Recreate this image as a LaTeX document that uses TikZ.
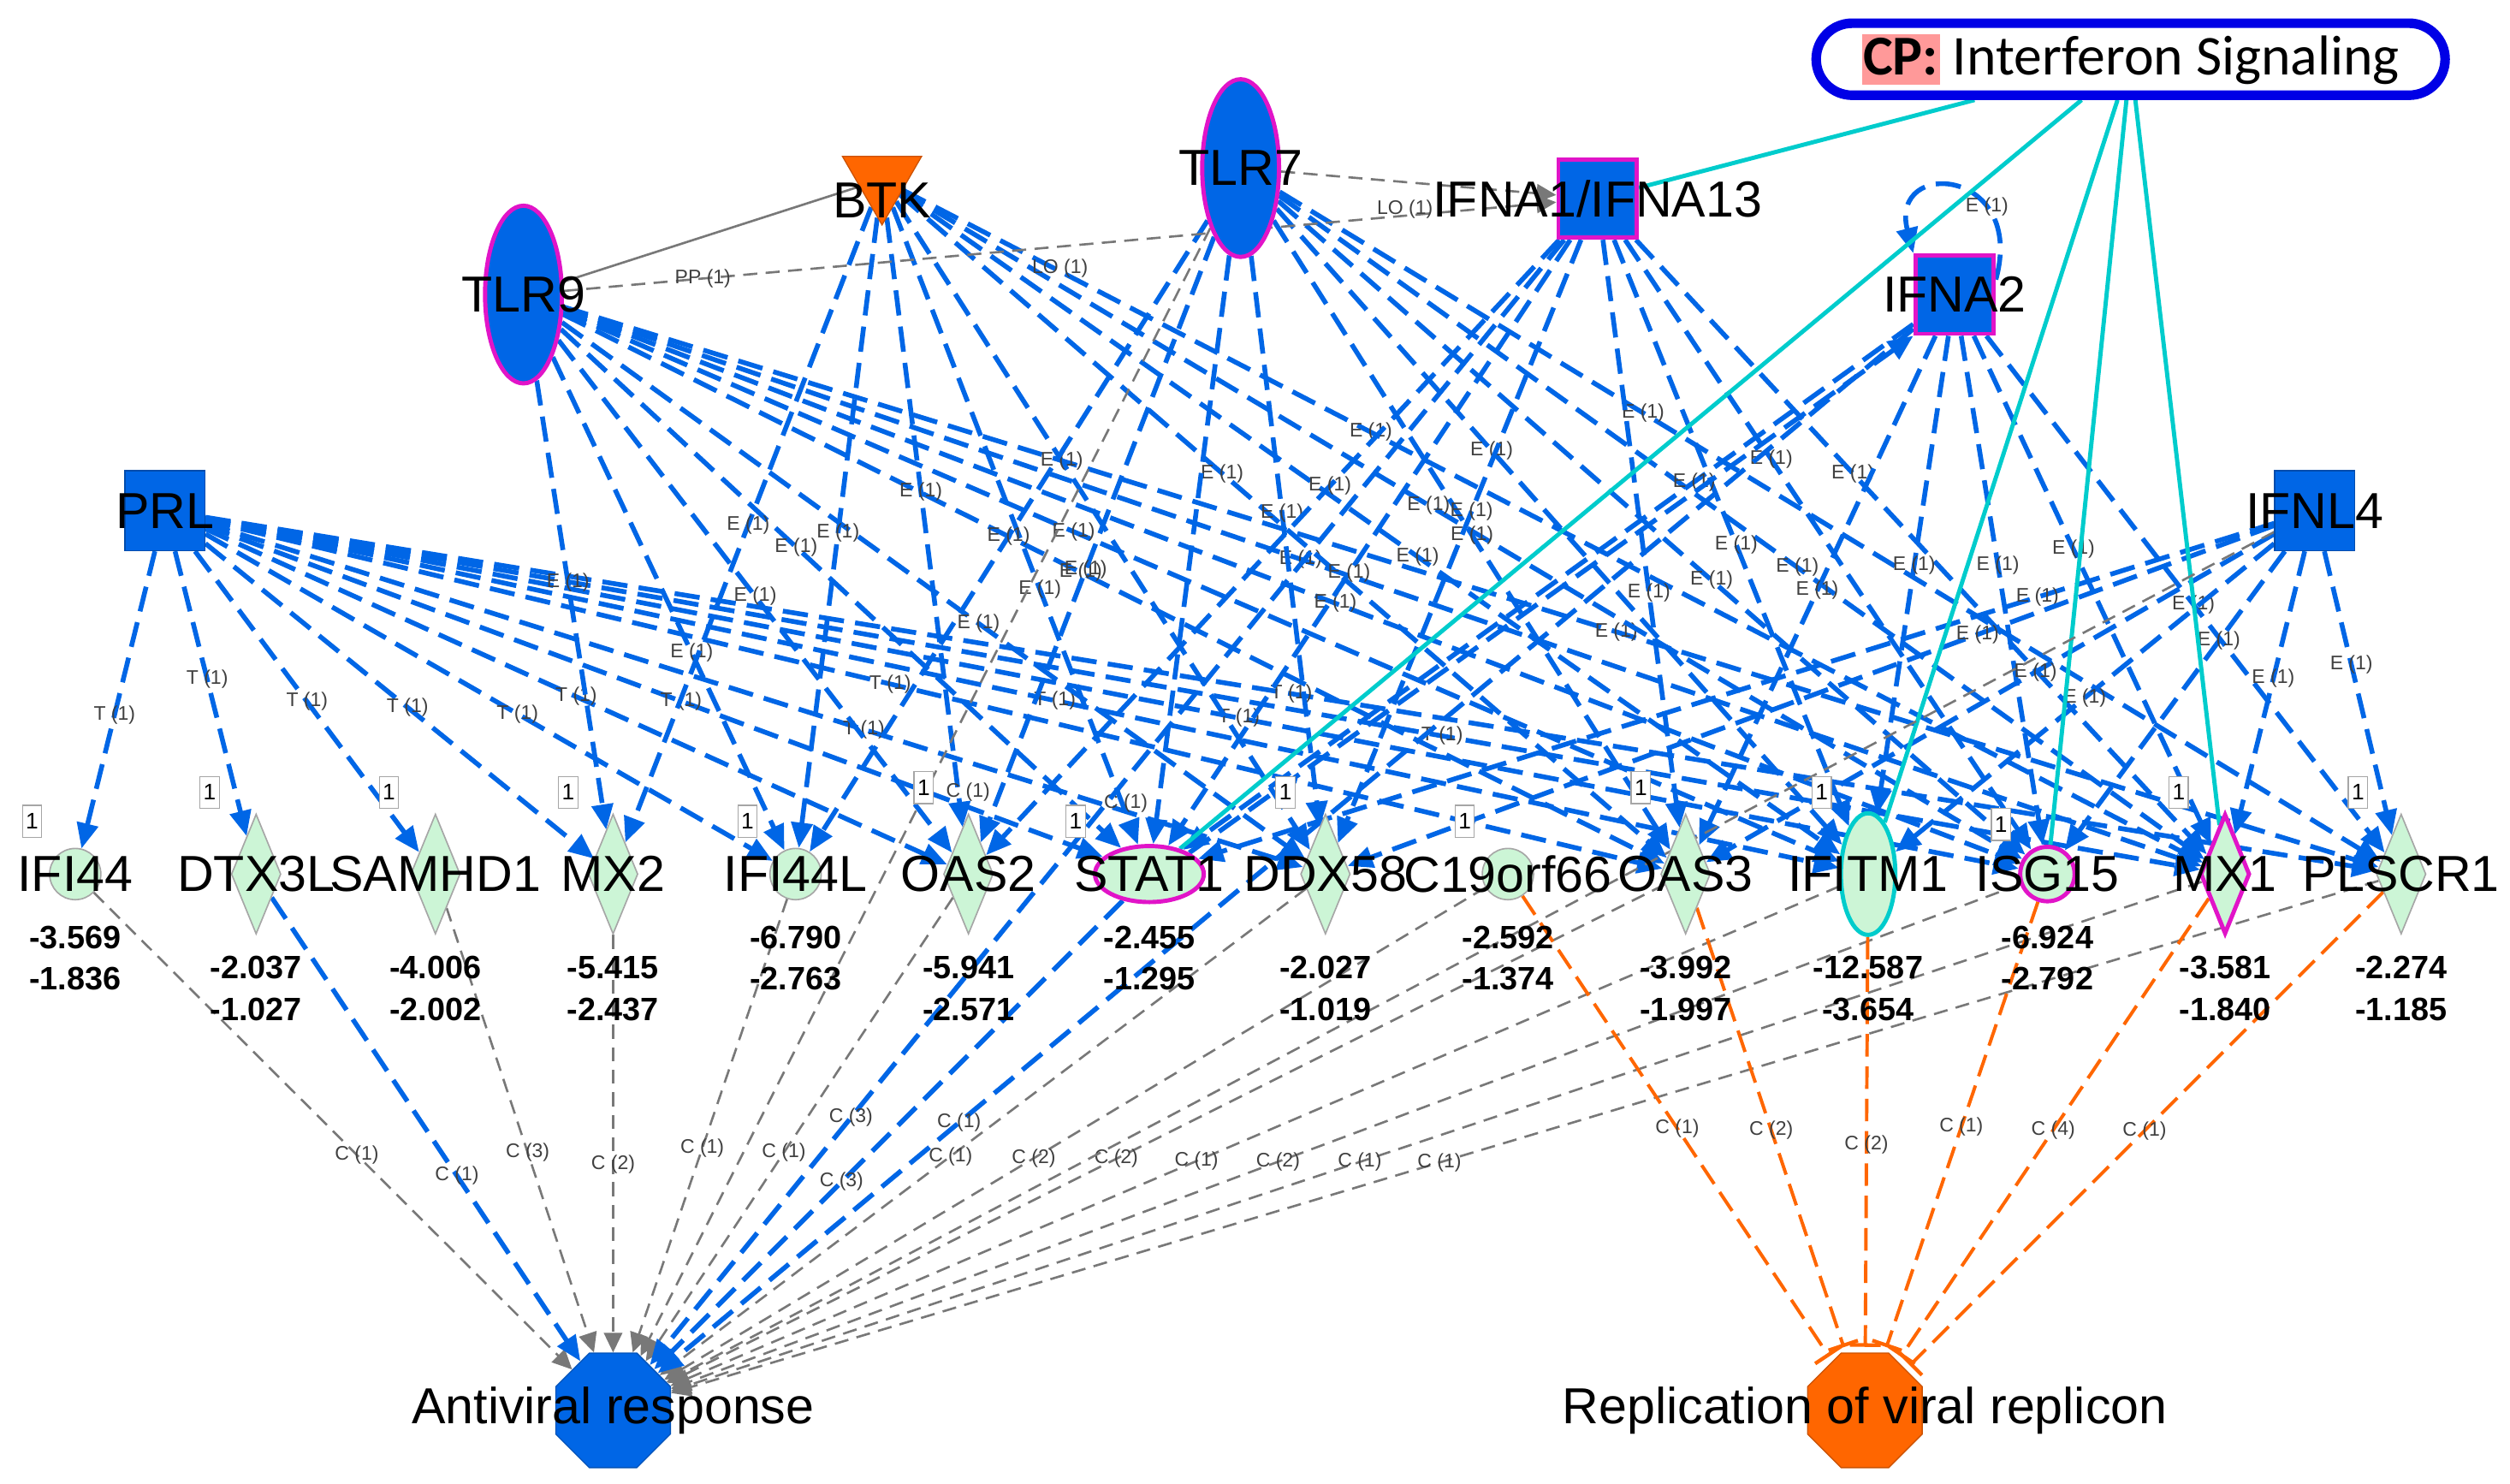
\documentclass[tikz,border=0pt]{standalone}
\usepackage{fontspec}
\setmainfont{Liberation Sans}
\newfontfamily\cpfont{Carlito}
\usetikzlibrary{positioning,calc,arrows.meta,shapes.geometric,shapes.misc}
\definecolor{ipablue}{RGB}{0,102,230}
\definecolor{ipaorange}{RGB}{255,102,0}
\definecolor{ipamag}{RGB}{225,20,200}
\definecolor{ipagreen}{RGB}{204,245,214}
\definecolor{ipacyan}{RGB}{0,204,204}
\definecolor{ipagrey}{RGB}{120,120,120}
\definecolor{cpblue}{RGB}{0,0,230}
\definecolor{cppink}{RGB}{255,153,153}
\pgfdeclarelayer{links}
\pgfsetlayers{links,main}
\begin{document}
\begin{tikzpicture}[x=0.02cm, y=-0.02cm, >={Triangle[length=9pt,width=7.5pt]},
  upoval/.style={ellipse, fill=ipablue, draw=ipamag, line width=1.5pt, minimum width=0.96cm, minimum height=2.22cm, inner sep=0pt},
  upsq/.style={rectangle, fill=ipablue, draw=ipablue!75!black, line width=0.4pt, minimum size=1cm, inner sep=0pt},
  upsqmag/.style={upsq, draw=ipamag, line width=1.5pt, minimum size=0.98cm},
  btktri/.style={regular polygon, regular polygon sides=3, shape border rotate=180, fill=ipaorange, draw=ipaorange!80!black, line width=0.4pt, minimum size=1.14cm, inner sep=0pt},
  funcblue/.style={regular polygon, regular polygon sides=8, fill=ipablue, draw=ipablue!80!black, line width=0.4pt, minimum size=1.55cm, inner sep=0pt},
  funcorange/.style={funcblue, fill=ipaorange, draw=ipaorange!80!black},
  cpbox/.style={rounded rectangle, draw=cpblue, line width=3.4pt, fill=white, minimum width=8.0cm, minimum height=0.9cm, inner sep=2pt, font=\cpfont\fontsize{20}{24}\selectfont},
  toplab/.style={font=\fontsize{18}{20}\selectfont, inner sep=0pt},
  genecirc/.style={circle, fill=ipagreen, draw=gray!70, line width=0.5pt, minimum size=0.64cm, inner sep=0pt},
  genedia/.style={diamond, fill=ipagreen, draw=gray!70, line width=0.5pt, minimum width=0.62cm, minimum height=1.5cm, inner sep=0pt},
  genestat/.style={ellipse, fill=ipagreen, draw=ipamag, line width=1.5pt, minimum width=1.36cm, minimum height=0.7cm, inner sep=0pt},
  geneitm/.style={ellipse, fill=ipagreen, draw=ipacyan, line width=1.5pt, minimum width=0.68cm, minimum height=1.52cm, inner sep=0pt},
  geneisg/.style={genecirc, draw=ipamag, line width=1.5pt, minimum size=0.68cm},
  genemx/.style={genedia, draw=ipamag, line width=1.5pt},
  tagbox/.style={draw=gray!70, line width=0.4pt, fill=white, minimum width=0.24cm, minimum height=0.4cm, inner sep=0pt, font=\fontsize{8}{9}\selectfont},
  vals/.style={font=\bfseries\fontsize{11.5}{14.8}\selectfont, align=center, inner sep=0pt},
  act/.style={->, draw=ipablue, line width=1.7pt, dash pattern=on 9pt off 4pt},
  cgrey/.style={-{Triangle[length=7pt,width=6.5pt]}, draw=ipagrey, line width=0.8pt, dash pattern=on 5pt off 3pt},
  inhib/.style={-{Bar[width=11pt,line width=1.3pt]}, draw=ipaorange, line width=1.2pt, dash pattern=on 8pt off 3.5pt, shorten >=2pt},
  cplink/.style={draw=ipacyan, line width=1.5pt},
  elab/.style={font=\fontsize{7}{8}\selectfont, text=black!75, inner sep=1pt}]
\useasboundingbox (0,0) rectangle (1568,926.5);

\node[cpbox] (CP) at (1331,37) {{\setlength\fboxsep{0.5pt}\colorbox{cppink}{\rule[-3pt]{0pt}{17pt}\bfseries CP:}} Interferon Signaling};
\node[upoval, label={[toplab]center:TLR7}] (TLR7) at (775,105) {};
\node[btktri, label={[toplab,yshift=-0.26cm]center:BTK}] (BTK) at (551,112) {};
\node[upsqmag, label={[toplab]center:IFNA1/IFNA13}] (IFNA1) at (998,124) {};
\node[upoval, label={[toplab]center:TLR9}] (TLR9) at (327,184) {};
\node[upsqmag, label={[toplab]center:IFNA2}] (IFNA2) at (1221,184) {};
\node[upsq, label={[toplab]center:PRL}] (PRL) at (103,319) {};
\node[upsq, label={[toplab]center:IFNL4}] (IFNL4) at (1446,319) {};

\foreach \n/\x/\s/\vy/\tx/\ty/\va/\vb in {
  IFI44/47/genecirc/578/20/513/-3.569/-1.836,
  DTX3L/160/genedia/597/131/495/-2.037/-1.027,
  SAMHD1/272/genedia/597/243/495/-4.006/-2.002,
  MX2/383/genedia/597/355/495/-5.415/-2.437,
  IFI44L/497/genecirc/578/467/513/-6.790/-2.763,
  OAS2/605/genedia/597/577/492/-5.941/-2.571,
  STAT1/718/genestat/578/672/513/-2.455/-1.295,
  DDX58/828/genedia/597/803/495/-2.027/-1.019,
  C19orf66/942/genecirc/578/915/513/-2.592/-1.374,
  OAS3/1053/genedia/597/1025/492/-3.992/-1.997,
  IFITM1/1167/geneitm/597/1138/495/-12.587/-3.654,
  ISG15/1279/geneisg/578/1250/515/-6.924/-2.792,
  MX1/1390/genemx/597/1361/495/-3.581/-1.840,
  PLSCR1/1500/genedia/597/1473/495/-2.274/-1.185}
{
  \node[\s, label={[toplab]center:\n}] (\n) at (\x,546) {};
  \node[tagbox] (\n tag) at (\tx,\ty) {1};
  \node[vals, anchor=north] (\n val) at (\x,\vy) {\va\\\vb};
}

\node[funcblue, label={[toplab]center:Antiviral response}] (antiviral) at (383,881) {};
\node[funcorange, label={[toplab]center:Replication of viral replicon}] (replication) at (1165,881) {};

\begin{pgfonlayer}{links}
\foreach \g/\p in {IFI44/0.55,DTX3L/0.45,SAMHD1/0.5,MX2/0.52,IFI44L/0.55,OAS2/0.5,STAT1/0.53,DDX58/0.6,OAS3/0.47,IFITM1/0.52,ISG15/0.57,MX1/0.62,PLSCR1/0.5}
  \draw[act] (PRL) -- node[elab,pos=\p] {T (1)} (\g);
\foreach \g/\p in {MX2/0.45,IFI44L/0.6,OAS2/0.5,STAT1/0.42,DDX58/0.56,OAS3/0.47,IFITM1/0.4,ISG15/0.53,MX1/0.45,PLSCR1/0.58}
  \draw[act] (TLR9) -- node[elab,pos=\p] {E (1)} (\g);
\foreach \g/\p in {MX2/0.5,IFI44L/0.5,OAS2/0.45,STAT1/0.6,DDX58/0.4,OAS3/0.42,IFITM1/0.55,ISG15/0.47,MX1/0.36}
  \draw[act] (BTK) -- node[elab,pos=\p] {E (1)} (\g);
\foreach \g/\p in {IFI44L/0.5,OAS2/0.55,DDX58/0.45,OAS3/0.5,IFITM1/0.38,ISG15/0.58,MX1/0.56,PLSCR1/0.33}
  \draw[act] (TLR7) -- node[elab,pos=\p] {E (1)} (\g);
\draw[act] (TLR7) -- node[elab,pos=0.93,left=2pt] {C (1)} (STAT1);
\foreach \g/\p in {OAS2/0.4,STAT1/0.55,DDX58/0.45,OAS3/0.6,IFITM1/0.52,ISG15/0.36,MX1/0.38}
  \draw[act] (IFNA1) -- node[elab,pos=\p] {E (1)} (\g);
\foreach \g/\p in {STAT1/0.3,OAS3/0.5,IFITM1/0.48,ISG15/0.45,MX1/0.42,PLSCR1/0.52}
  \draw[act] (IFNA2) -- node[elab,pos=\p] {E (1)} (\g);
\foreach \g/\p in {STAT1/0.22,DDX58/0.32,OAS3/0.42,IFITM1/0.5,ISG15/0.3,MX1/0.45,PLSCR1/0.4}
  \draw[act] (IFNL4) -- node[elab,pos=\p] {E (1)} (\g);
\draw[act] (STAT1.north east) -- (IFNA2.south west);
\draw[act] (IFNA2.20) .. controls (1266,105) and (1180,98) .. node[elab,pos=0.3] {E (1)} (IFNA2.north west);

\draw[ipagrey, line width=0.8pt] (TLR9) -- (BTK);
\draw[cgrey] (TLR9) -- node[elab,pos=0.14] {PP (1)} node[elab,pos=0.5,below=3pt] {LO (1)} (IFNA1);
\draw[cgrey] (TLR7) -- node[elab,pos=0.45,below=5pt] {LO (1)} (IFNA1);

\foreach \g in {IFNA1,STAT1,IFITM1,ISG15,MX1}
  \draw[cplink] (CP) -- (\g);

\foreach \g/\c in {IFI44/1,SAMHD1/3,MX2/2,IFI44L/1,OAS2/1,DDX58/1,C19orf66/2,OAS3/2,IFITM1/1,ISG15/2,MX1/1,PLSCR1/1}
  \draw[cgrey] (\g) -- node[elab,pos=0.55] {C (\c)} (antiviral);
\draw[cgrey] (TLR7) -- node[elab,pos=0.5,right=6pt] {C (1)} (antiviral);
\draw[cgrey] (IFNL4) -- (antiviral);
\foreach \g/\c/\p in {DTX3L/1/0.6,STAT1/3/0.6,IFNA1/3/0.78,IFNA2/1/0.76}
  \draw[act] (\g) -- node[elab,pos=\p] {C (\c)} (antiviral);

\foreach \g/\c in {C19orf66/1,OAS3/2,IFITM1/2,ISG15/1,MX1/4,PLSCR1/1}
  \draw[inhib] (\g) -- node[elab,pos=0.5] {C (\c)} (replication);
\end{pgfonlayer}
\end{tikzpicture}
\end{document}
